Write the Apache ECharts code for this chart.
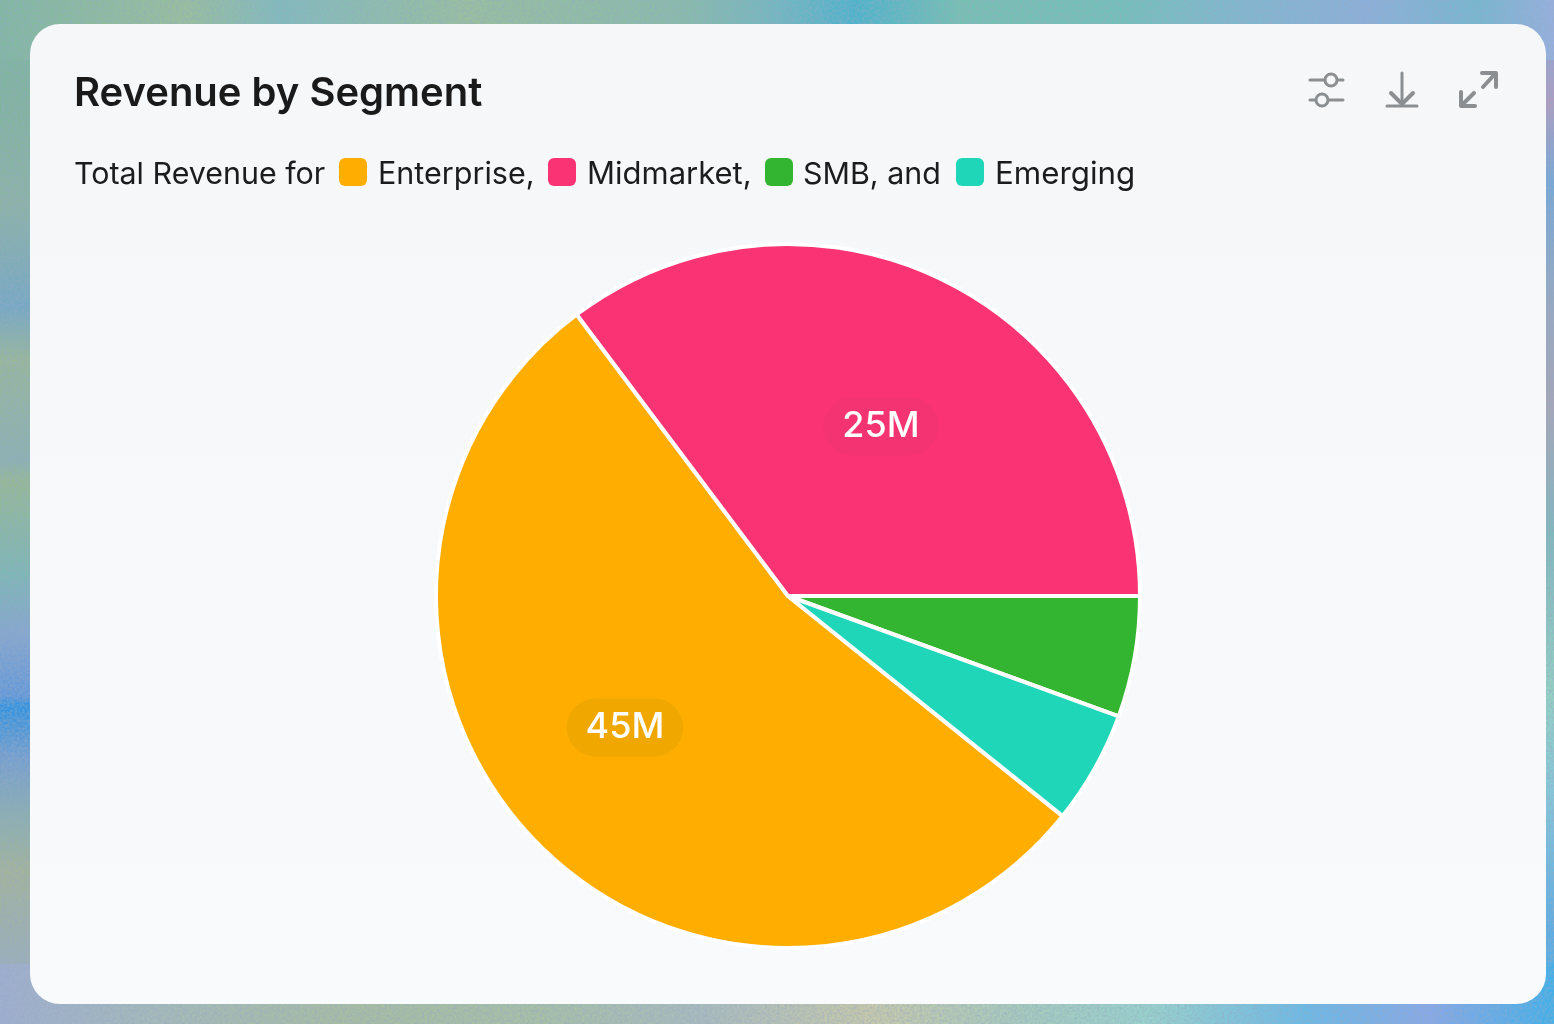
<!DOCTYPE html>
<html>
<head>
<meta charset="utf-8">
<style>
html,body{margin:0;padding:0;width:1554px;height:1024px;overflow:hidden;background-color:#82b0b4;}
#bg{position:absolute;left:0;top:0;width:1554px;height:1024px;
background:
 url("data:image/svg+xml,%3Csvg xmlns='http://www.w3.org/2000/svg' width='400' height='400'%3E%3Cfilter id='n'%3E%3CfeTurbulence type='fractalNoise' baseFrequency='0.4' numOctaves='3' seed='4'/%3E%3CfeColorMatrix values='0 0 0 0 0.3 0 0 0 0 0.4 0 0 0 0 0.55 1.0 0 0 0 -0.28'/%3E%3C/filter%3E%3Crect width='400' height='400' filter='url(%23n)'/%3E%3C/svg%3E"),
 linear-gradient(90deg,#80b8a0 0,#98c09a 12%,#80bcbc 18%,#98c09c 30%,#88bca8 44%,#70b8c0 50%,#48b4cc 55%,#74c2b0 62%,#70c2b8 72%,#80b8d0 80%,#8cb0dc 88%,#74b8d0 95%,#96b0e0 100%) top/100% 60px no-repeat,
 linear-gradient(90deg,#a0aed0 0,#a6bab8 10%,#a8bea0 22%,#a8c0a4 35%,#aabcbc 45%,#cacaa8 56%,#a6ccbc 66%,#98d4cc 74%,#68bae8 84%,#86a8ea 92%,#3cb0ec 100%) bottom/100% 60px no-repeat,
 linear-gradient(180deg,#7cb8a0 0,#80b49c 10%,#8cb4a4 20%,#74a8c4 30%,#98b898 35%,#8cb2b0 45%,#96ba92 47%,#7cb8b4 56%,#84a6d0 62%,#6098dc 68%,#2c92e2 69%,#749fd0 74%,#8cb0ae 80%,#a4b498 85%,#9cb0b4 93%,#a8aacc 100%) left/70px 100% no-repeat,
 linear-gradient(180deg,#84a8e0 0,#b09cc0 10%,#74a8d8 18%,#98a8c0 30%,#a8a6b6 40%,#80b8bc 52%,#94d4c4 68%,#84c8dc 78%,#5caee4 90%,#4caeea 100%) right/50px 100% no-repeat;}
#c{position:absolute;left:0;top:0;width:1554px;height:1024px;}
</style>
</head>
<body>
<div id="bg"></div>
<div id="c"></div>
<script src="https://cdn.jsdelivr.net/npm/echarts@6/dist/echarts.min.js"></script>
<script>
const categories = ['Enterprise', 'Midmarket', 'SMB', 'Emerging'];
const pieValues = [54.0, 35.25, 5.55, 5.2];
const sliceLabels = ['45M', '25M', '', ''];
const sliceColors = ['#FFAE00', '#FA3374', '#34B531', '#20D6B8'];
const titleText = 'Revenue by Segment';
const subtitleParts = ['Total Revenue for', 'Enterprise,', 'Midmarket,', 'SMB, and', 'Emerging'];

const FONT = 'Inter, "Noto Sans", sans-serif';
const ICON = '#8b8f92';
const nudges = [[-34.5, 7], [13, -9.5], [0, 0], [0, 0]];
const pills = ['#F0A800', 'rgba(90,70,80,0.035)', 'transparent', 'transparent'];

const chart = echarts.init(document.getElementById('c'), null, {renderer: 'canvas'});

function legendText(x, text, size) {
  return {type: 'text', silent: true, z: 5, style: {x, y: 175, text, font: '400 ' + size + 'px ' + FONT, fill: '#1c1c1c', verticalAlign: 'middle'}};
}
function swatch(x, color) {
  return {type: 'rect', silent: true, z: 5, shape: {x, y: 158, width: 28, height: 28, r: 6}, style: {fill: color}};
}
function seg(x1, y1, x2, y2, w) {
  return {type: 'line', silent: true, z: 5, shape: {x1, y1, x2, y2}, style: {stroke: ICON, lineWidth: w || 3, lineCap: 'round'}};
}
function poly(points) {
  return {type: 'polyline', silent: true, z: 5, shape: {points}, style: {fill: 'none', stroke: ICON, lineWidth: 4, lineCap: 'round', lineJoin: 'round'}};
}
function ring(cx, cy) {
  return {type: 'circle', silent: true, z: 6, shape: {cx, cy, r: 6}, style: {fill: '#f5f7f9', stroke: ICON, lineWidth: 3}};
}

chart.setOption({
  animation: false,
  backgroundColor: 'transparent',
  graphic: {elements: [
    {type: 'rect', silent: true, z: 1, shape: {x: 30, y: 24, width: 1516, height: 980, r: 30},
      style: {fill: {type: 'linear', x: 0, y: 0, x2: 0, y2: 1, colorStops: [{offset: 0, color: '#f5f7f9'}, {offset: 1, color: '#f9fafc'}]}}},
    {type: 'text', silent: true, z: 5, style: {x: 74, y: 94, text: titleText, font: '600 40px ' + FONT, fill: '#1a1a1a', verticalAlign: 'middle'}},
    legendText(74, subtitleParts[0], 30.4),
    swatch(339, sliceColors[0]),
    legendText(378, subtitleParts[1], 30.5),
    swatch(548, sliceColors[1]),
    legendText(587, subtitleParts[2], 31),
    swatch(765, sliceColors[2]),
    legendText(803, subtitleParts[3], 30.4),
    swatch(956, sliceColors[3]),
    legendText(995, subtitleParts[4], 31.3),
    seg(1310, 80, 1343, 80), ring(1331, 80),
    seg(1310, 100, 1343, 100), ring(1322, 100),
    seg(1402, 73, 1402, 104),
    poly([[1391, 93], [1402, 104], [1413, 93]]),
    seg(1387, 106, 1417, 106),
    seg(1483, 87, 1494, 75, 4),
    poly([[1482, 73], [1496, 73], [1496, 87]]),
    seg(1463, 104, 1474, 93, 4),
    poly([[1461, 92], [1461, 106], [1475, 106]])
  ]},
  series: [{
    type: 'pie',
    z: 3,
    center: [788, 596],
    radius: [0, 352],
    startAngle: -38.7,
    clockwise: true,
    silent: true,
    label: {show: true, position: 'inside', color: '#fff', fontFamily: FONT, fontSize: 36, fontWeight: 500},
    labelLine: {show: false},
    itemStyle: {borderColor: '#fff', borderWidth: 4},
    data: categories.map((name, i) => ({
      name,
      value: pieValues[i],
      itemStyle: {color: sliceColors[i]},
      label: {
        show: sliceLabels[i] !== '',
        formatter: sliceLabels[i],
        offset: nudges[i],
        backgroundColor: pills[i],
        padding: [11, 19, 11, 19],
        borderRadius: 29
      }
    }))
  }]
});
</script>
</body>
</html>
